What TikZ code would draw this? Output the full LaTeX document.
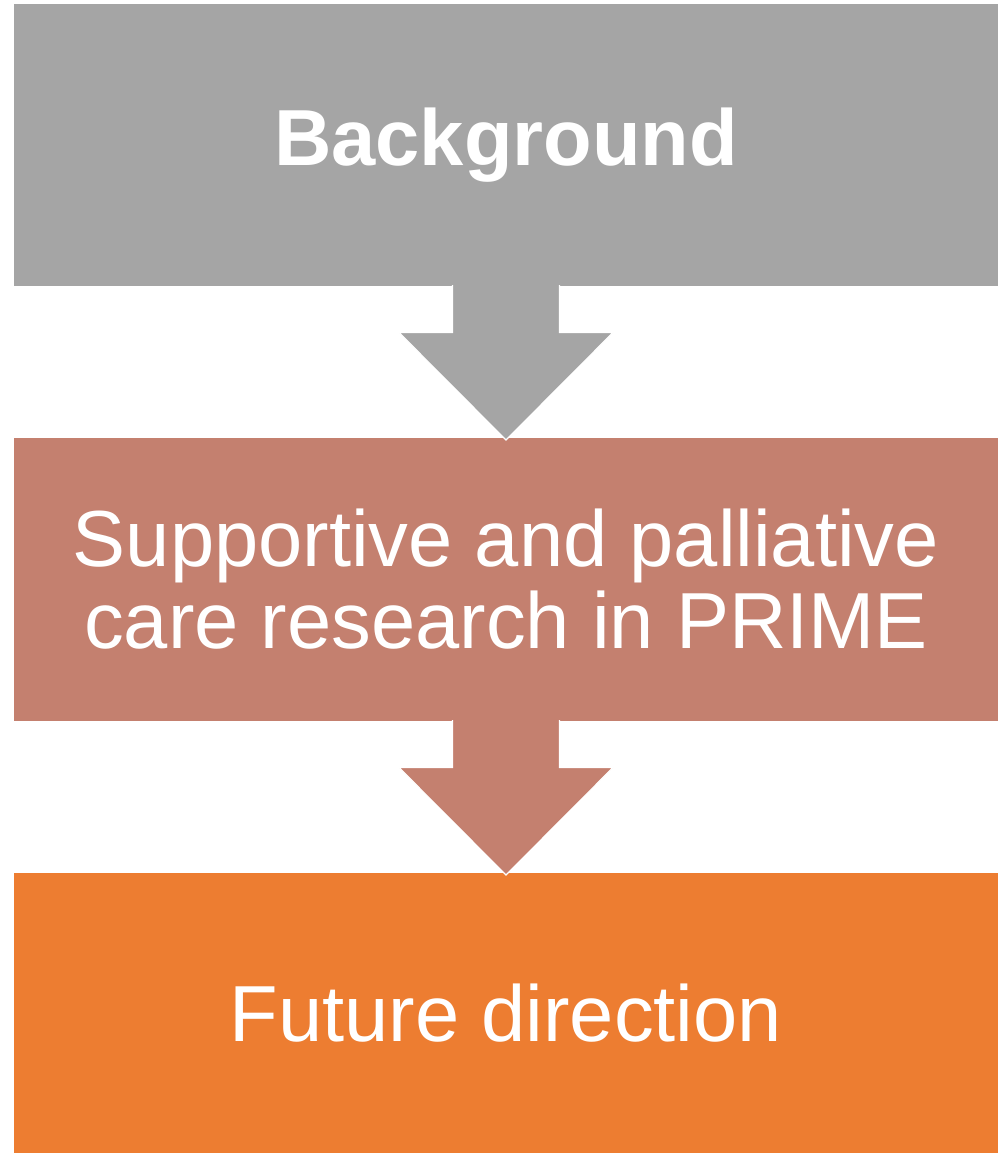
\documentclass[tikz,border=0pt]{standalone}
\usepackage{fontspec}
\setmainfont{Liberation Sans}
\usetikzlibrary{calc}
\definecolor{boxgray}{HTML}{A5A5A5}
\definecolor{boxbrown}{HTML}{C4806F}
\definecolor{boxorange}{HTML}{ED7D31}
\tikzset{
  stage/.style={rectangle, inner sep=0pt, outer sep=0pt, minimum width=984pt, text=white, align=center, font=\fontsize{79.5}{82}\selectfont},
  flowarrow/.style={draw=white, line width=1.2pt, line join=miter}
}
\begin{document}
\begin{tikzpicture}[x=1pt,y=-1pt]
\useasboundingbox (0,0) rectangle (1002,1153);
\fill[white] (0,0) rectangle (1002,1153);
\node[stage, fill=boxgray, minimum height=282pt, font=\fontsize{79.5}{82}\selectfont\bfseries] (b1) at (506,145) {Background};
\node[stage, fill=boxbrown, minimum height=283pt] (b2) at (506,579.5) {Supportive and palliative\\care research in PRIME};
\node[stage, fill=boxorange, minimum height=280pt] (b3) at (506,1013) {Future direction};
% arrow 1
\filldraw[flowarrow, fill=boxgray]
  ($(b1.south)+(-53.5,-1)$) -- ($(b1.south)+(-53.5,46.5)$) -- ($(b1.south)+(-107,46.5)$)
  -- ($(b2.north)+(0,2)$) -- ($(b1.south)+(107,46.5)$) -- ($(b1.south)+(53.5,46.5)$)
  -- ($(b1.south)+(53.5,-1)$);
% arrow 2
\filldraw[flowarrow, fill=boxbrown]
  ($(b2.south)+(-53.5,-1)$) -- ($(b2.south)+(-53.5,46.5)$) -- ($(b2.south)+(-107,46.5)$)
  -- ($(b3.north)+(0,2)$) -- ($(b2.south)+(107,46.5)$) -- ($(b2.south)+(53.5,46.5)$)
  -- ($(b2.south)+(53.5,-1)$);
\end{tikzpicture}
\end{document}
